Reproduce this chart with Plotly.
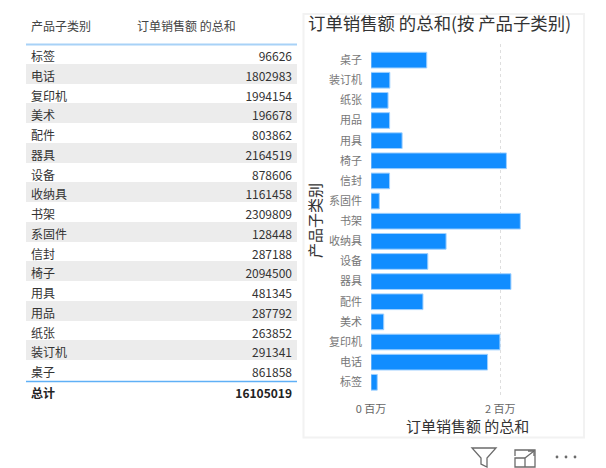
import plotly.graph_objects as go

categories = ["标签","电话","复印机","美术","配件","器具","设备","收纳具","书架","系固件","信封","椅子","用具","用品","纸张","装订机","桌子"]
sales = [96626,1802983,1994154,196678,803862,2164519,878606,1161458,2309809,128448,287188,2094500,481345,287792,263852,291341,861858]
total_label = "总计"
total_value = 16105019
col_headers = ["产品子类别", "订单销售额 的总和"]
chart_title = "订单销售额 的总和(按 产品子类别)"
x_title = "订单销售额 的总和"
y_title = "产品子类别"
x_tickvals = [0, 2000000]
x_ticktext = ["0 百万", "2 百万"]

W, H = 606, 468
FONT = "Noto Sans CJK SC, Noto Sans, sans-serif"
def fx(p): return p / W
def fy(p): return 1 - p / H

fig = go.Figure()

fills = ["#ffffff" if i % 2 == 0 else "#ececec" for i in range(len(categories))]
col_w = [106, 171]
fig.add_trace(go.Table(
    domain=dict(x=[fx(23), fx(300)], y=[fy(381), fy(14)]),
    columnwidth=col_w,
    header=dict(values=col_headers, height=30, align="left",
                fill_color="#ffffff", line_width=0,
                font=dict(family=FONT, size=12, color="#444444")),
    cells=dict(values=[categories, [str(v) for v in sales]],
               height=19.75, align=["left", "right"],
               fill_color=[fills, fills], line_width=0,
               font=dict(family=FONT, size=12, color="#333333")),
))
fig.add_trace(go.Table(
    domain=dict(x=[fx(23), fx(300)], y=[fy(401), fy(376)]),
    columnwidth=col_w,
    header=dict(values=[f"<b>{total_label}</b>", f"<b>{total_value}</b>"], height=25,
                align=["left", "right"], fill_color="rgba(0,0,0,0)", line_width=0,
                font=dict(family=FONT, size=12, color="#222222")),
    cells=dict(values=[[], []], height=1, line_width=0, fill_color="rgba(0,0,0,0)"),
))

fig.add_trace(go.Bar(
    x=sales, y=categories, orientation="h", width=0.78,
    marker=dict(color="#118DFF", line=dict(color="#9fd0ff", width=1)),
    xaxis="x", yaxis="y",
))

def line(x0, y0, x1, y1, color, width, dash="solid"):
    return dict(type="line", xref="paper", yref="paper", x0=fx(x0), x1=fx(x1), y0=fy(y0), y1=fy(y1),
                line=dict(color=color, width=width, dash=dash), layer="above")

def path(d_pts, color="#6b6b6b", width=1.3, close=False):
    d = "M" + " L".join(f"{fx(x):.5f},{fy(y):.5f}" for x, y in d_pts) + (" Z" if close else "")
    return dict(type="path", xref="paper", yref="paper", path=d, line=dict(color=color, width=width), layer="above")

def white(x0, y0, x1, y1):
    return dict(type="rect", xref="paper", yref="paper", x0=fx(x0), x1=fx(x1), y0=fy(y0), y1=fy(y1),
                fillcolor="#ffffff", line_width=0, layer="above")

shapes = [
    dict(type="rect", xref="paper", yref="paper", x0=fx(303.5), x1=fx(584), y0=fy(14), y1=fy(437.5),
         line=dict(color="#f2f2f2", width=2), fillcolor="#ffffff", layer="below"),
    white(22, 14, 26, 404),
    white(297, 14, 301, 404),
    line(26, 44.5, 297, 44.5, "#a8d2f7", 2),
    line(26, 381.5, 297, 381.5, "#5fb0f6", 1.5),
    # visual header icons
    path([(472, 448), (496, 448), (487, 458), (487, 467), (481, 464), (481, 458)], close=True),
    path([(515, 456), (515, 450), (535, 450), (535, 467), (515, 467), (515, 458), (525, 458), (525, 467)]),
    path([(525, 458), (534, 451)]),
    path([(528, 451), (534, 451), (534, 456)]),
]
for cx in (557, 566, 575):
    shapes.append(dict(type="circle", xref="paper", yref="paper",
                       x0=fx(cx - 1.4), x1=fx(cx + 1.4), y0=fy(458.4), y1=fy(455.6),
                       fillcolor="#6b6b6b", line_width=0, layer="above"))

annotations = [
    dict(text=chart_title, xref="paper", yref="paper", x=fx(306), y=fy(22), xanchor="left", yanchor="middle",
         showarrow=False, font=dict(family=FONT, size=17.4, color="#333333")),
    dict(text=x_title, xref="paper", yref="paper", x=fx(467), y=fy(425), xanchor="center", yanchor="middle",
         showarrow=False, font=dict(family=FONT, size=15, color="#333333")),
    dict(text=y_title, xref="paper", yref="paper", x=fx(314), y=fy(221), xanchor="center", yanchor="middle",
         textangle=-90, showarrow=False, font=dict(family=FONT, size=15, color="#333333")),
]

fig.update_layout(
    width=W, height=H, margin=dict(l=0, r=0, t=0, b=0),
    paper_bgcolor="#ffffff", plot_bgcolor="#ffffff", showlegend=False,
    font=dict(family=FONT),
    shapes=shapes, annotations=annotations,
    xaxis=dict(domain=[fx(371), fx(570)], range=[0, 3078000], tickvals=x_tickvals, ticktext=x_ticktext,
               automargin=False,
               showgrid=True, gridcolor="#dedede", griddash="dot", gridwidth=1, zeroline=False,
               showline=False, ticks="", ticklen=0, anchor="y", ticklabelstandoff=3,
               tickfont=dict(family=FONT, size=11, color="#666666")),
    yaxis=dict(domain=[fy(398), fy(44)], range=[-0.78, 16.8], type="category",
               automargin=False,
               categoryorder="array", categoryarray=categories,
               showgrid=False, zeroline=False, showline=False, ticks="", anchor="x",
               ticklabelstandoff=8,
               tickfont=dict(family=FONT, size=11, color="#777777")),
)

fig.write_html("out.html", config=dict(displayModeBar=False),
               post_script="document.body.style.margin='0';")
